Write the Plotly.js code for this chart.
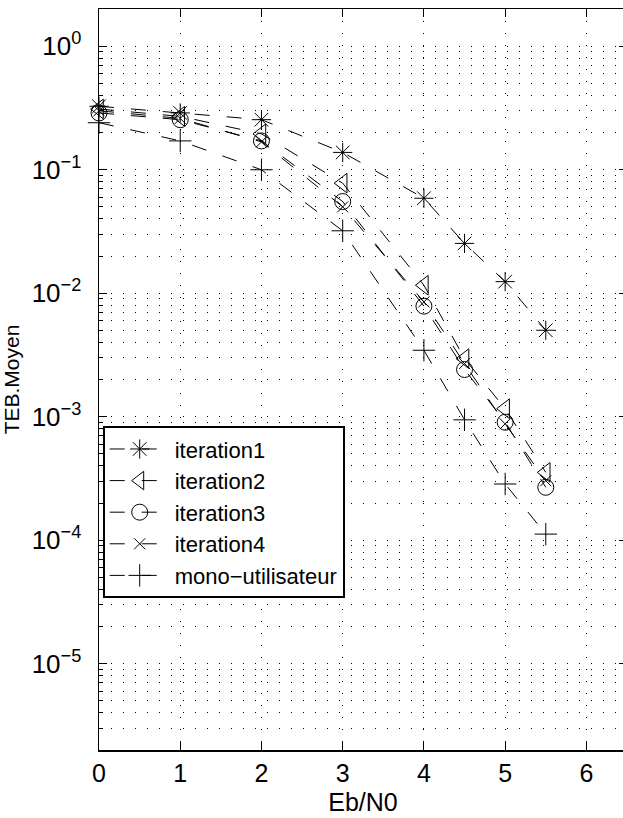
<!DOCTYPE html>
<html><head><meta charset="utf-8">
<script src="https://cdn.plot.ly/plotly-3.0.1.min.js"></script>
<style>html,body{margin:0;padding:0;overflow:hidden;background:#fff}</style>
</head><body><div id="chart"></div>
<script>
// Eb/N0 (dB)
const ebn0 = [0, 1, 2, 3, 4, 4.5, 5, 5.5];
// TEB moyen per series
const iteration1 = [0.326, 0.288, 0.254, 0.138, 0.0587, 0.0253, 0.0124, 0.00501];
const iteration2 = [0.31, 0.27, 0.195, 0.0778, 0.0116, 0.00295, 0.00116, 0.000354];
const iteration3 = [0.288, 0.254, 0.171, 0.0552, 0.00785, 0.00241, 0.000902, 0.000268];
const iteration4 = [0.30, 0.26, 0.168, 0.050, 0.0085, 0.00269, 0.000875, 0.000303];
const monoUser = [0.24, 0.171, 0.0998, 0.032, 0.00345, 0.000943, 0.000285, 0.000112];
const seriesNames = ['iteration1', 'iteration2', 'iteration3', 'iteration4', 'mono\u2212utilisateur'];
const xTickVals = [0, 1, 2, 3, 4, 5, 6];
const xTickText = ['0', '1', '2', '3', '4', '5', '6'];
const yTickVals = [1e-5, 1e-4, 1e-3, 1e-2, 1e-1, 1];
const yTickText = ['10<sup>\u22125</sup>', '10<sup>\u22124</sup>', '10<sup>\u22123</sup>', '10<sup>\u22122</sup>', '10<sup>\u22121</sup>', '10<sup>0</sup>'];

const FONT = 'Liberation Sans, Arial, Helvetica, sans-serif';
const yMin = 2e-6, yMax = 2;
const minorVals = [];
for (let k = -6; k <= 0; k++) {
  for (let m = 2; m <= 9; m++) {
    const v = m * Math.pow(10, k);
    if (v >= yMin * 0.999 && v <= yMax * 1.001) minorVals.push(v);
  }
}

const seriesData = [iteration1, iteration2, iteration3, iteration4, monoUser];
const symbols = ['asterisk-open', 'triangle-left-open', 'circle-open', 'x-thin-open', 'cross-thin-open'];
const sizes = [16, 17, 16, 11, 16];

const traces = seriesData.map((ys, i) => ({
  x: ebn0, y: ys, name: seriesNames[i], type: 'scatter', mode: 'lines+markers',
  cliponaxis: false,
  line: {color: '#000', width: 1, dash: '15px,17px'},
  marker: {symbol: symbols[i], size: sizes[i], color: '#000', line: {color: '#000', width: 1}}
}));

const grid = {showgrid: true, gridcolor: '#000', gridwidth: 1, griddash: '1px,11px'};

const layout = {
  width: 640, height: 818,
  margin: {l: 99, r: 13, t: 9, b: 68},
  paper_bgcolor: '#fff', plot_bgcolor: '#fff',
  font: {family: FONT, color: '#000', size: 25},
  showlegend: true,
  xaxis: Object.assign({
    range: [0, 6.5], tickmode: 'array', tickvals: xTickVals, ticktext: xTickText,
    ticks: 'inside', ticklen: 8, tickwidth: 1, tickcolor: '#000',
    showline: true, linecolor: '#000', linewidth: 1.5, mirror: 'ticks', zeroline: false,
    tickfont: {family: FONT, size: 25, color: '#000'},
    title: {text: 'Eb/N0', font: {family: FONT, size: 25, color: '#000'}, standoff: 8}
  }, grid),
  yaxis: Object.assign({
    type: 'log', range: [Math.log10(yMin), Math.log10(yMax)],
    tickmode: 'array', tickvals: yTickVals, ticktext: yTickText,
    ticks: 'inside', ticklen: 8, tickwidth: 1, tickcolor: '#000', ticklabelstandoff: 11,
    showline: true, linecolor: '#000', linewidth: 1.5, mirror: 'ticks', zeroline: false,
    tickfont: {family: FONT, size: 26, color: '#000'},
    title: {text: 'TEB.Moyen', font: {family: FONT, size: 21, color: '#000'}, standoff: 8},
    minor: Object.assign({tickmode: 'array', tickvals: minorVals, ticks: 'inside', ticklen: 4, tickwidth: 1, tickcolor: '#000'}, grid)
  }, grid),
  legend: {
    x: 0.007, y: 0.437, xanchor: 'left', yanchor: 'top',
    bgcolor: '#fff', bordercolor: '#000', borderwidth: 2,
    font: {family: FONT, size: 22, color: '#000'},
    itemwidth: 60, tracegroupgap: 0
  }
};

Plotly.newPlot('chart', traces, layout, {displayModeBar: false, staticPlot: true});
</script>
</body></html>
